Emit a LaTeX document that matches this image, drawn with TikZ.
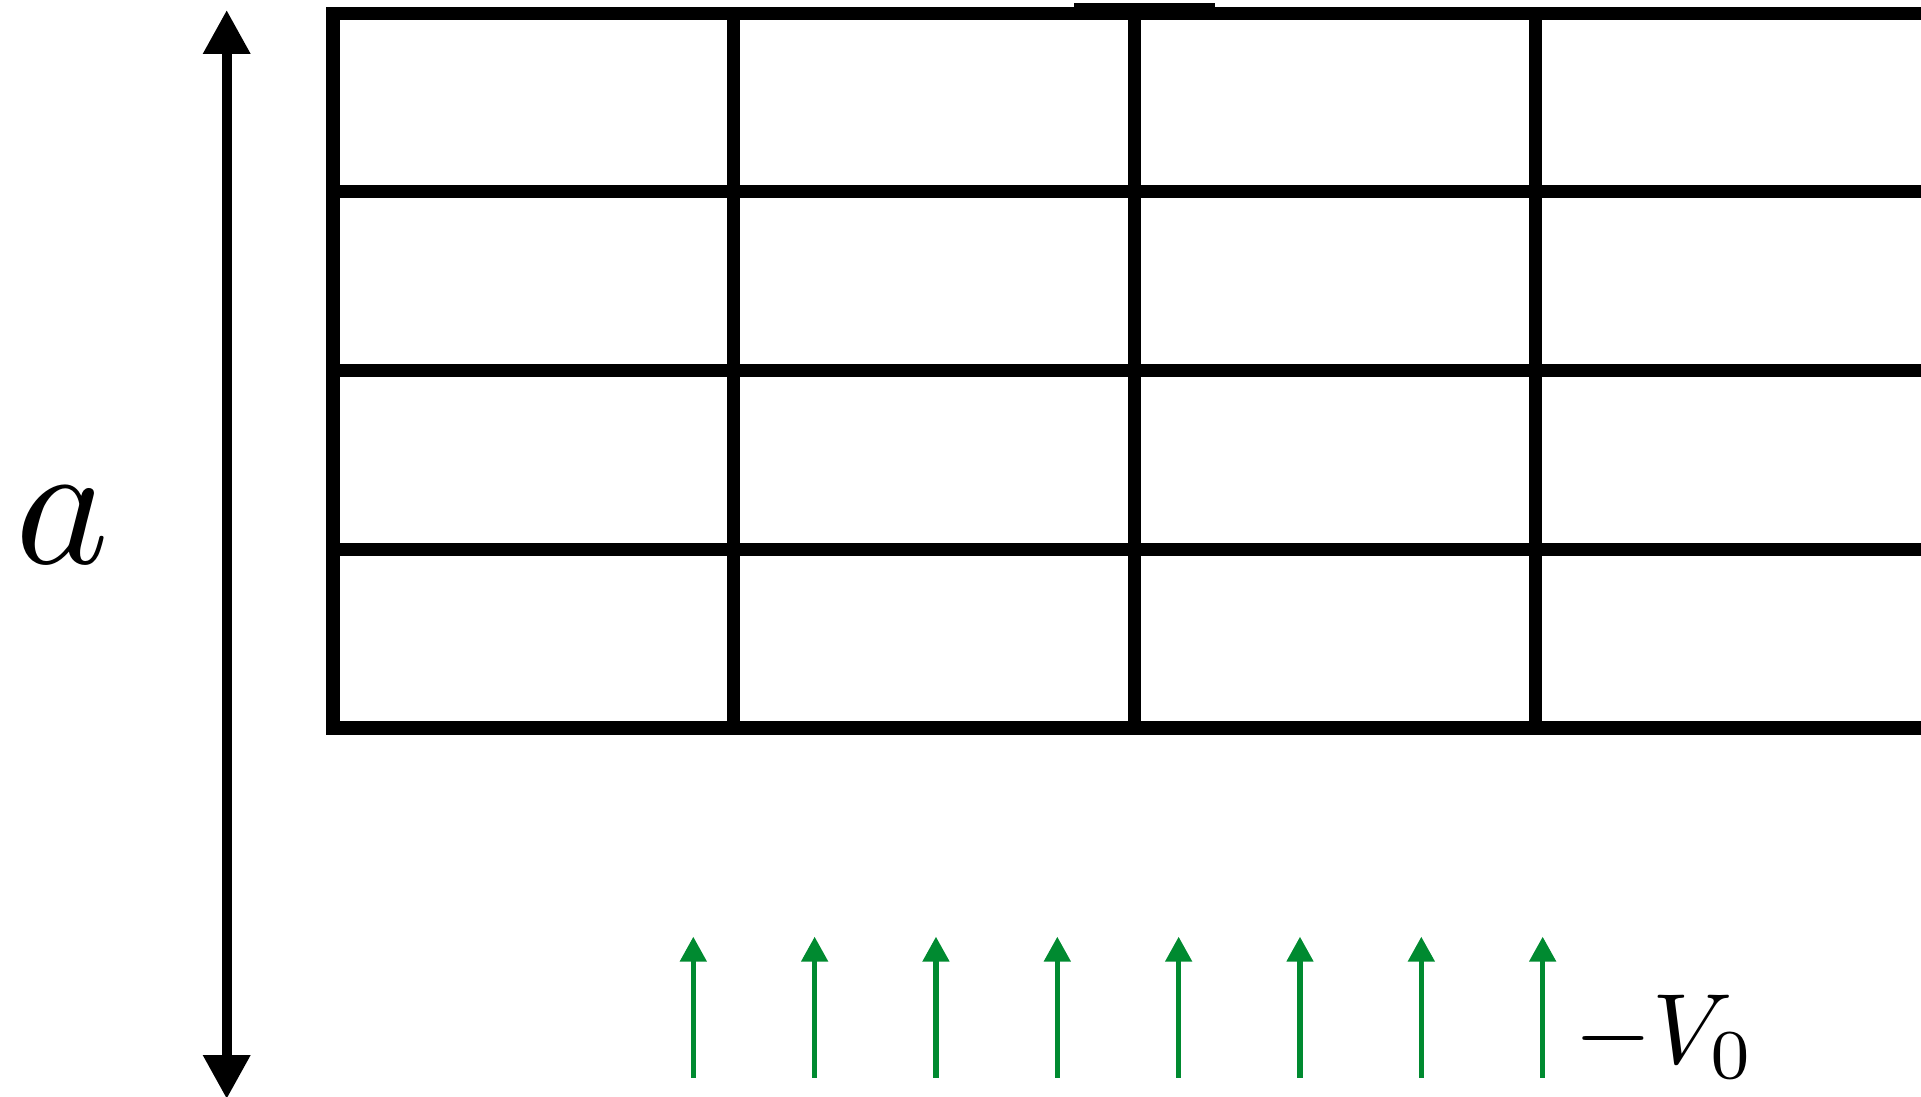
\documentclass[tikz,border=0pt]{standalone}
\usepackage{graphicx}
\usepackage{tikz}
\usetikzlibrary{arrows.meta, positioning}
\definecolor{fieldgreen}{RGB}{0,138,48}

\begin{document}
\begin{tikzpicture}[grid/.style={line width=3.7pt, line cap=rect},
	span/.style={line width=2.85pt, {Triangle[width=0.45cm, length=0.44cm]}-{Triangle[width=0.45cm, length=0.44cm]}},
	field/.style={draw=fieldgreen, line width=1.45pt, -{Triangle[width=0.26cm, length=0.25cm]}}]
			\useasboundingbox (0,0) rectangle (19.21,10.96);
			
			\foreach \y in {10.825, 9.04, 7.25, 5.46, 3.68}
				\draw[grid] (3.33,\y) -- (19.6,\y);
			\foreach \x in {3.33, 7.33, 11.34, 15.35}
				\draw[grid] (\x,10.825) -- (\x,3.68);
			\draw[line width=4.8pt] (10.74,10.845) -- (12.15,10.845);
			
			\coordinate (atop) at (2.267,10.86);
			\coordinate (abot) at (2.267,-0.03);
			\draw[span] (abot) -- (atop);
			\node[inner sep=0] (alabel) at (0.625,5.71) {\scalebox{5.06}{$a$}};
			
			\foreach \i in {0,...,7} {
				\coordinate (fb\i) at ({6.933+1.2134*\i},0.183);
				\coordinate (ft\i) at ({6.933+1.2134*\i},1.593);
				\draw[field] (fb\i) -- (ft\i);
			}
			\node[anchor=base west, inner sep=0] (vlabel) at (15.74,0.33) {\scalebox{2.845}{$-V_0$}};
\end{tikzpicture}
\end{document}
